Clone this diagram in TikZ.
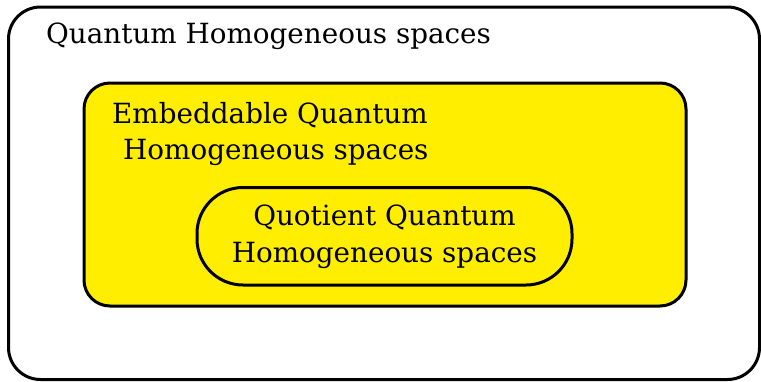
\documentclass[tikz,border=0pt]{standalone}
\usepackage{fontspec}
\setmainfont{DejaVu Serif}
\definecolor{boxyellow}{RGB}{255,238,0}
\begin{document}
\begin{tikzpicture}[x=1pt,y=-1pt,
  frame/.style={draw=black,line width=3pt},
  label/.style={inner sep=0pt,anchor=base west,font=\fontsize{27.8}{33}\selectfont}]
\useasboundingbox (0,0) rectangle (761,381);
\draw[frame,rounded corners=32pt] (8.5,7) rectangle (759.5,379.5);
\draw[frame,fill=boxyellow,rounded corners=26pt] (84,83) rectangle (686,306);
\draw[frame,fill=boxyellow,rounded corners=46pt] (197,187.5) rectangle (572,285);
\node[label] (t1) at (46,43) {Quantum Homogeneous spaces};
\node[label] (t2a) at (112,123) {Embeddable Quantum};
\node[label] (t2b) at (123,159) {Homogeneous spaces};
\node[label,anchor=base] (t3a) at (384.5,225) {Quotient Quantum};
\node[label,anchor=base] (t3b) at (384.5,262) {Homogeneous spaces};
\end{tikzpicture}
\end{document}
